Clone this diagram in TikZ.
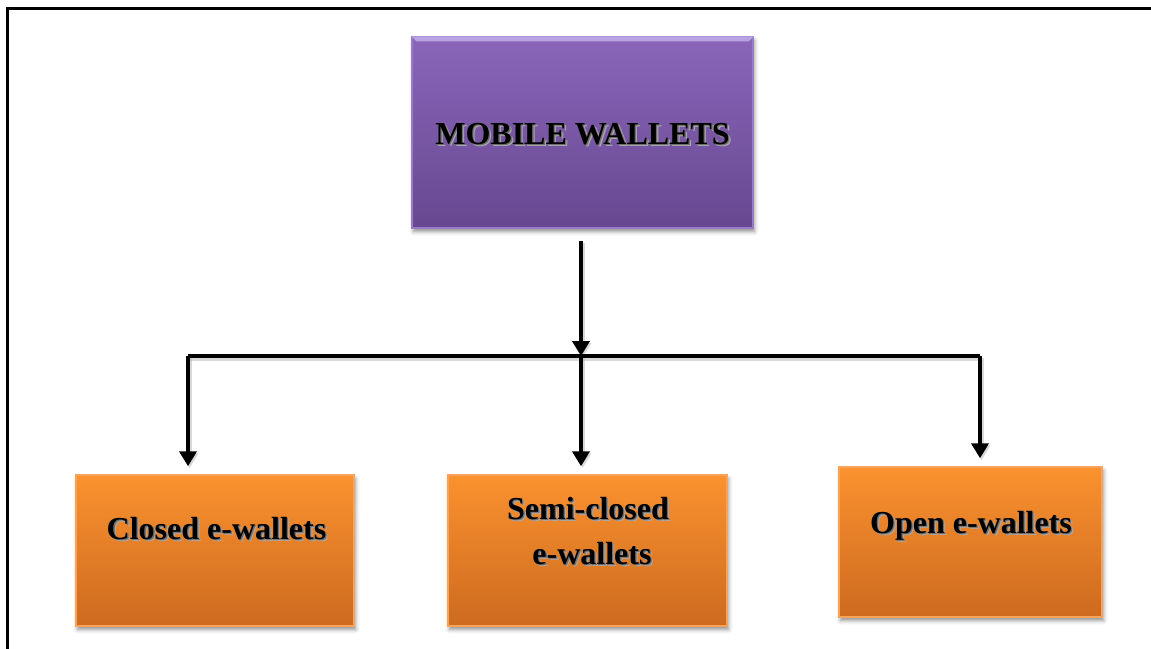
\documentclass[tikz,border=0pt]{standalone}
\usepackage{fontspec}
\setmainfont{Liberation Serif}
\usetikzlibrary{arrows.meta,shadows.blur,calc}

\definecolor{ptop}{HTML}{8A66BA}
\definecolor{pbot}{HTML}{674890}
\definecolor{pedge}{HTML}{9A7BC6}
\definecolor{plight}{HTML}{B9A2E2}
\definecolor{otop}{HTML}{FB922F}
\definecolor{obot}{HTML}{CC6A1F}
\definecolor{oedge}{HTML}{F9A35A}
\definecolor{tshadowA}{HTML}{6E6E6E}
\definecolor{tshadowB}{HTML}{A8A8A8}

% bold label with a soft offset shadow behind it
\newcommand{\shadowtext}[1]{%
  \rlap{\hspace{2.4pt}\raisebox{-2.4pt}{\textcolor{tshadowB}{#1}}}%
  \rlap{\hspace{1.3pt}\raisebox{-1.3pt}{\textcolor{tshadowA}{#1}}}#1}

\begin{document}
\begin{tikzpicture}[x=1pt,y=-1pt,
  boxshadow/.style={blur shadow={shadow xshift=1.5pt,shadow yshift=-3.5pt,shadow blur radius=4pt,shadow opacity=45}},
  purplebox/.style={rectangle,draw=pedge,line width=1.2pt,top color=ptop,bottom color=pbot,boxshadow,inner sep=0pt},
  orangebox/.style={rectangle,draw=oedge,line width=1.5pt,top color=otop,bottom color=obot,boxshadow,inner sep=0pt},
  label/.style={font=\fontsize{32}{45}\selectfont\bfseries,text=black,inner sep=0pt,align=center},
  wire/.style={line width=4.8pt,black,line join=miter,
    preaction={draw=black!30,line width=5pt,opacity=0.5,transform canvas={xshift=1.5pt,yshift=-2pt}}},
  arr/.style={wire,-{Triangle[width=17pt,length=15pt]}}]

\useasboundingbox (0,0) rectangle (1151,648);

% page frame
\draw[line width=3pt,line cap=rect] (7,648) -- (7,8) -- (1151,8);

% boxes
\node[purplebox,minimum width=341pt,minimum height=191pt] (top) at (582.5,132.5) {};
\fill[plight] (top.north west) -- (top.north east) -- ([xshift=-5pt,yshift=-5pt]top.north east) -- ([xshift=5pt,yshift=-5pt]top.north west) -- cycle;
\node[orangebox,minimum width=278pt,minimum height=151pt] (closed) at (215,550.5) {};
\node[orangebox,minimum width=279pt,minimum height=151pt] (semi) at (587.5,550.5) {};
\node[orangebox,minimum width=263pt,minimum height=150pt] (open) at (970.5,542) {};

% labels
\node[label,anchor=base] (toptxt) at (582.5,144) {\shadowtext{MOBILE WALLETS}};
\node[label,anchor=base] (closedtxt) at (216.5,539) {\shadowtext{Closed e-wallets}};
\node[label] (semitxt) at (588,532) {\shadowtext{Semi-closed}\\ \shadowtext{\ e-wallets}};
\node[label,anchor=base] (opentxt) at (971,533) {\shadowtext{Open e-wallets}};

% connectors
\coordinate (hub) at (581,356);
\coordinate (tl) at (188,356);
\coordinate (tr) at (980,356);
\draw[arr] ([yshift=-12pt]top.south -| hub) -- (hub);
\draw[wire] (tl) -- (tr);
\draw[arr,shorten >=8pt] (tl) -- (tl |- closed.north);
\draw[arr,shorten >=8pt] (hub) -- (hub |- semi.north);
\draw[arr,shorten >=8pt] (tr) -- (tr |- open.north);
\end{tikzpicture}
\end{document}
